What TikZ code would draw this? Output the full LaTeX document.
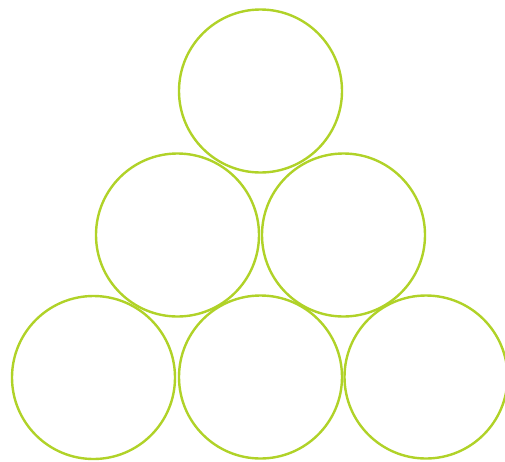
\documentclass[tikz,border=0pt]{standalone}
\definecolor{lime}{RGB}{176,210,40}
\begin{document}
\begin{tikzpicture}[x=1pt,y=-1pt,
  ring/.style={circle,draw=lime,line width=2.4pt,minimum size=163pt,inner sep=0pt}]
\useasboundingbox (0,0) rectangle (505,461);
\node[ring] (t) at (260.5,91) {};
\node[ring] (ml) at (177.5,235) {};
\node[ring] (mr) at (343.5,235) {};
\node[ring] (bl) at (93.5,377.5) {};
\node[ring] (bm) at (260.5,377) {};
\node[ring] (br) at (426,377) {};
\end{tikzpicture}
\end{document}
